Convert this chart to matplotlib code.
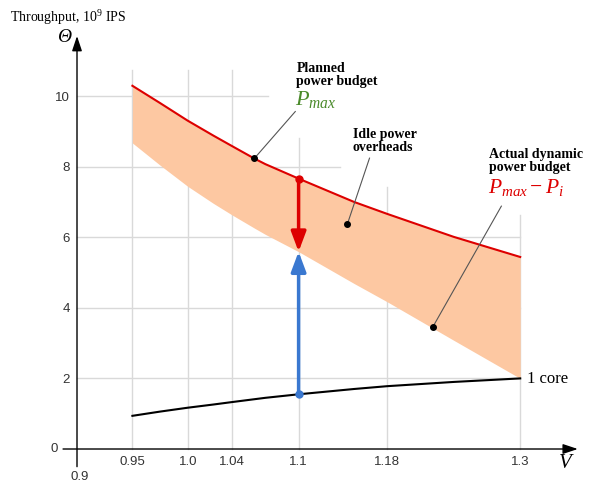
import matplotlib
matplotlib.use("Agg")
import matplotlib.pyplot as plt
from matplotlib.patches import FancyArrowPatch

# data
volts = [0.95, 0.975, 1.0, 1.023, 1.04, 1.06, 1.07, 1.1, 1.15, 1.18, 1.24, 1.3]
p_max = [10.29, 9.80, 9.30, 8.88, 8.58, 8.23, 8.07, 7.66, 7.0, 6.66, 6.01, 5.44]
p_dyn = [8.67, 8.04, 7.44, 6.96, 6.63, 6.26, 6.08, 5.59, 4.69, 4.17, 3.08, 2.0]
one_core = [0.94, 1.06, 1.17, 1.26, 1.33, 1.41, 1.45, 1.55, 1.70, 1.78, 1.90, 2.0]

x_ticks = [0.95, 1.0, 1.04, 1.1, 1.18, 1.3]
y_ticks = [0, 2, 4, 6, 8, 10]

# partial grid: how far each line reaches
vgrid_top = [10.74, 10.74, 10.74, 8.8, 7.42, 6.63]
hgrid_end = [1.3, 1.3, 1.3, 1.137, 1.072]

v_op = 1.1
ann_pmax = (1.06, 8.23)
ann_idle = (1.144, 6.37)
ann_dyn = (1.221, 3.45)

red = "#dd0000"
blue = "#3a78d0"
peach = "#fdc8a2"
grid_c = "#d9d9d9"
tick_c = "#333333"

plt.rcParams["mathtext.fontset"] = "custom"
plt.rcParams["mathtext.it"] = "Liberation Serif:italic"
plt.rcParams["mathtext.rm"] = "Liberation Serif"

fig = plt.figure(figsize=(5.9, 4.86), dpi=100)
ax = fig.add_axes([0, 0, 1, 1])
ax.set_xlim(0.8305, 1.363)
ax.set_ylim(-1.048, 12.72)
for s in ax.spines.values():
    s.set_color("none")
ax.spines["bottom"].set_position(("data", 0))
ax.spines["left"].set_position(("data", 0.9))

# grid
for xv, top in zip(x_ticks, vgrid_top):
    ax.plot([xv, xv], [0, top], color=grid_c, lw=1, zorder=0)
for yv, end in zip(y_ticks[1:], hgrid_end):
    ax.plot([0.9, end], [yv, yv], color=grid_c, lw=1, zorder=0)

# ticks
ax.set_xticks(x_ticks)
ax.set_xticklabels([str(v) for v in x_ticks])
ax.set_yticks(y_ticks[1:])
ax.tick_params(length=0, labelsize=9.5, labelcolor=tick_c, pad=5)
for lab in ax.get_xticklabels() + ax.get_yticklabels():
    lab.set_family("Liberation Sans")
ax.annotate("0.9", (0.9, 0), xytext=(2, -20.5), textcoords="offset points",
            ha="center", va="center", fontsize=9.5, color=tick_c, family="Liberation Sans")
ax.annotate(str(y_ticks[0]), (0.9, 0), xytext=(-14, 0), textcoords="offset points",
            ha="right", va="center", fontsize=9.5, color=tick_c, family="Liberation Sans")

# axes with arrows
ax.annotate("", xy=(1.352, 0), xytext=(0.8874, 0),
            arrowprops=dict(arrowstyle="-|>,head_length=0.9,head_width=0.3", color="black", lw=1,
                            shrinkA=0, shrinkB=0))
ax.annotate("", xy=(0.9, 11.7), xytext=(0.9, -0.5),
            arrowprops=dict(arrowstyle="-|>,head_length=0.9,head_width=0.3", color="black", lw=1,
                            shrinkA=0, shrinkB=0))

# band and curves
ax.fill_between(volts, p_dyn, p_max, color=peach, lw=0, zorder=1)
ax.plot(volts, p_max, color=red, lw=1.5, zorder=3)
ax.plot(volts, one_core, color="black", lw=1.5, zorder=3)

# arrows at the operating voltage
i = volts.index(v_op)
head = "-|>,head_length=12,head_width=4.5"
ax.add_patch(FancyArrowPatch((v_op, p_max[i]), (v_op, p_dyn[i]),
                             arrowstyle=head, mutation_scale=1,
                             color=red, lw=2.5, shrinkA=0, shrinkB=0, zorder=4))
ax.add_patch(FancyArrowPatch((v_op, one_core[i]), (v_op, p_dyn[i]),
                             arrowstyle=head, mutation_scale=1,
                             color=blue, lw=2.5, shrinkA=0, shrinkB=0, zorder=4))
ax.plot([v_op], [p_max[i]], "o", color=red, ms=5, zorder=5)
ax.plot([v_op], [one_core[i]], "o", color=blue, ms=5, zorder=5)

# annotations
lead = dict(color="#555555", lw=0.8)
for pt, start in [(ann_pmax, (1.097, 9.56)), (ann_idle, (1.164, 8.24)), (ann_dyn, (1.283, 6.88))]:
    ax.plot([start[0], pt[0]], [start[1], pt[1]], zorder=5, **lead)
    ax.plot([pt[0]], [pt[1]], "o", color="black", ms=4, zorder=6)

serif = "Liberation Serif"
ax.text(1.098, 10.96, "Planned\npower budget", family=serif, weight="bold",
        fontsize=10, va="top", ha="left", linespacing=1.0)
ax.text(1.097, 9.75, "$P_{max}$", color="#4a8a2a", fontsize=16, va="baseline", ha="left")
ax.text(1.149, 9.09, "Idle power\noverheads", family=serif, weight="bold",
        fontsize=10, va="top", ha="left", linespacing=1.0)
ax.text(1.272, 8.52, "Actual dynamic\npower budget", family=serif, weight="bold",
        fontsize=10, va="top", ha="left", linespacing=1.0)
ax.text(1.271, 7.26, "$P_{max} - P_i$", color=red, fontsize=15.5, va="baseline", ha="left")
ax.text(1.306, 1.98, "1 core", family=serif, fontsize=12, va="center", ha="left")

fig.text(10 / 590, 1 - 22 / 486, "Throughput, 10$^9$ IPS", family=serif, fontsize=10,
         ha="left", va="baseline")
fig.text(64 / 590, 1 - 38 / 486, "Θ", family=serif, style="italic", fontsize=14,
         ha="center", va="center")
ax.text(1.342, -0.37, "$V$", fontsize=15, ha="center", va="center")

fig.savefig("out.png", dpi=100)
